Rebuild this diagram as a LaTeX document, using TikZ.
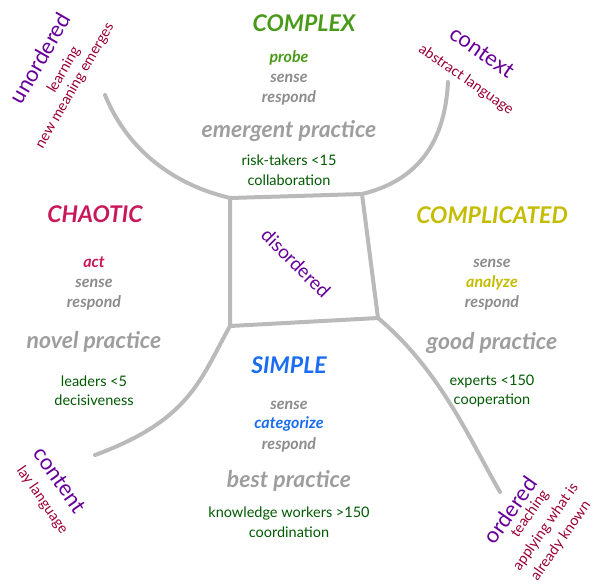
\documentclass[tikz,border=0pt]{standalone}
\usepackage{fontspec}
\setmainfont{Lato}
\begin{document}
\begin{tikzpicture}[x=1pt,y=-1pt,
  ln/.style={draw=black!27,line width=4pt,line cap=round,line join=round},
  hd/.style={font=\fontsize{23}{26}\selectfont\bfseries\itshape},
  sb/.style={font=\fontsize{16}{18}\selectfont\bfseries\itshape,text=black!45},
  pr/.style={font=\fontsize{23}{26}\selectfont\bfseries\itshape,text=black!38},
  sm/.style={font=\fontsize{14.5}{16}\selectfont,text=green!35!black},
  cw/.style={font=\fontsize{22}{24}\selectfont,text=violet!80!blue},
  cs/.style={font=\fontsize{14.5}{16}\selectfont,text=purple!80!black}]
\useasboundingbox (0,0) rectangle (604,587);
\definecolor{cx}{HTML}{4A9A1A}\definecolor{ch}{HTML}{C8185A}
\definecolor{cp}{HTML}{C4BC00}\definecolor{si}{HTML}{1A6CF0}
% lines
\coordinate (tl) at (105,95); \coordinate (tr) at (448,82);
\coordinate (a) at (230,198); \coordinate (b) at (362,194);
\coordinate (c) at (230,326); \coordinate (d) at (378,318);
\coordinate (e) at (95,455); \coordinate (f) at (500,492);
\draw[ln] (tl) .. controls (140,180) and (220,195) .. (a) -- (b) .. controls (420,180) and (445,140) .. (tr);
\draw[ln] (a) -- (c) -- (d) -- (b);
\draw[ln] (c) .. controls (200,380) and (190,420) .. (e);
\draw[ln] (d) .. controls (440,370) and (470,440) .. (f);
% complex
\node[hd,text=cx] (n1) at (304,23) {COMPLEX};
\node[sb,text=cx] (n2) at (289,58) {probe};
\node[sb] (n3) at (289,78) {sense};
\node[sb] (n4) at (289,98) {respond};
\node[pr] (n5) at (289,131) {emergent practice};
\node[sm] (n6) at (289,160) {risk-takers <15};
\node[sm] (n7) at (289,180) {collaboration};
% chaotic
\node[hd,text=ch] (m1) at (95,214) {CHAOTIC};
\node[sb,text=ch] (m2) at (94,262) {act};
\node[sb] (m3) at (94,283) {sense};
\node[sb] (m4) at (94,303) {respond};
\node[pr] (m5) at (94,342) {novel practice};
\node[sm] (m6) at (94,381) {leaders <5};
\node[sm] (m7) at (94,400) {decisiveness};
% complicated
\node[hd,text=cp] (k1) at (492,215) {COMPLICATED};
\node[sb] (k2) at (492,263) {sense};
\node[sb,text=cp] (k3) at (492,283) {analyze};
\node[sb] (k4) at (492,303) {respond};
\node[pr] (k5) at (492,343) {good practice};
\node[sm] (k6) at (492,381) {experts <150};
\node[sm] (k7) at (492,400) {cooperation};
% simple
\node[hd,text=si] (s1) at (289,365) {SIMPLE};
\node[sb] (s2) at (289,405) {sense};
\node[sb,text=si] (s3) at (289,424) {categorize};
\node[sb] (s4) at (289,445) {respond};
\node[pr] (s5) at (289,481) {best practice};
\node[sm] (s6) at (289,513) {knowledge workers >150};
\node[sm] (s7) at (289,532) {coordination};
% disordered
\node[cw,font=\fontsize{19}{20}\selectfont,rotate=-45] (dd) at (296,263) {disordered};
% corners
\node[cw,rotate=60] (u1) at (40,58) {unordered};
\node[cs,rotate=60] (u2) at (64,70) {learning};
\node[cs,rotate=60] (u3) at (75,86) {new meaning emerges};
\node[cw,rotate=-35] (x1) at (482,52) {context};
\node[cs,rotate=-35] (x2) at (466,80) {abstract language};
\node[cw,rotate=-55] (t1) at (60,480) {content};
\node[cs,rotate=-55] (t2) at (42,500) {lay language};
\node[cw,rotate=55] (o1) at (510,510) {ordered};
\node[cs,rotate=55] (o2) at (530,514) {teaching};
\node[cs,rotate=55] (o3) at (546,527) {applying what is};
\node[cs,rotate=55] (o4) at (561,541) {already known};
\end{tikzpicture}
\end{document}
